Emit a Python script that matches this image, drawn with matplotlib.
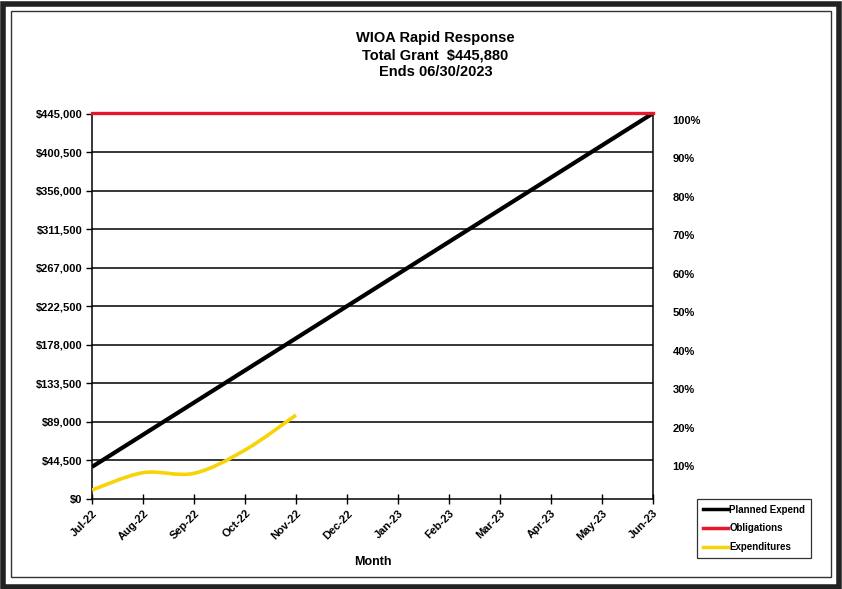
import numpy as np
import matplotlib.pyplot as plt
from matplotlib.path import Path
from matplotlib.patches import PathPatch, Rectangle
from matplotlib.lines import Line2D

plt.rcParams['font.family'] = ['Liberation Sans', 'DejaVu Sans']

# data
months = ['Jul-22', 'Aug-22', 'Sep-22', 'Oct-22', 'Nov-22', 'Dec-22',
          'Jan-23', 'Feb-23', 'Mar-23', 'Apr-23', 'May-23', 'Jun-23']
planned = [37157, 74313, 111470, 148627, 185783, 222940,
           260097, 297253, 334410, 371567, 408723, 445880]
obligations = [445880] * 12
expenditures = [10400, 30400, 29700, 56600, 97100]
y_ticks = [0, 44500, 89000, 133500, 178000, 222500, 267000, 311500, 356000, 400500, 445000]
pct_labels = ['10%', '20%', '30%', '40%', '50%', '60%', '70%', '80%', '90%', '100%']

fig = plt.figure(figsize=(8.42, 5.89), dpi=100)
ax = fig.add_axes([0.1093, 0.1528, 0.6663, 0.6537])

x = np.arange(len(months))

# grid lines
for v in y_ticks[1:]:
    ax.axhline(v, color='black', lw=1.1, zorder=1)

ax.plot(x, planned, color='black', lw=3, zorder=3, solid_capstyle='butt')
ax.plot(x, obligations, color='#e8182c', lw=2.4, zorder=4, clip_on=False)


# smoothed line like the spreadsheet (Catmull-Rom -> cubic bezier)
def smooth_path(xs, ys):
    pts = np.column_stack([xs, ys]).astype(float)
    verts = [pts[0]]
    codes = [Path.MOVETO]
    n = len(pts)
    for i in range(n - 1):
        p0 = pts[i - 1] if i > 0 else pts[i]
        p1 = pts[i]
        p2 = pts[i + 1]
        p3 = pts[i + 2] if i + 2 < n else pts[i + 1]
        c1 = p1 + (p2 - p0) / 6.0
        c2 = p2 - (p3 - p1) / 6.0
        verts += [c1, c2, p2]
        codes += [Path.CURVE4] * 3
    return Path(verts, codes)


ax.add_patch(PathPatch(smooth_path(x[:len(expenditures)], expenditures),
                       facecolor='none', edgecolor='#f7d308', lw=2.6, zorder=5))

ax.set_xlim(0, len(months) - 1)
ax.set_ylim(0, 445000)
ax.set_yticks(y_ticks)
ax.set_yticklabels(['$' + format(v, ',') for v in y_ticks], fontsize=8, fontweight='bold')
ax.set_xticks(x)
ax.set_xticklabels(months, rotation=45, ha='right', rotation_mode='anchor',
                   fontsize=8, fontweight='bold')
ax.tick_params(axis='x', direction='inout', length=7, width=1, pad=3)
ax.tick_params(axis='y', direction='out', length=4, width=1, pad=3)
ax.spines['top'].set_visible(False)
for s in ['left', 'bottom', 'right']:
    ax.spines[s].set_linewidth(1.1)
ax.set_xlabel('Month', fontsize=9, fontweight='bold', labelpad=10)

# percent labels on the right
ax2 = ax.twinx()
ax2.set_ylim(0, 100)
ax2.set_yticks(np.arange(10, 101, 10) - 1.5)
ax2.set_yticklabels(pct_labels, fontsize=8, fontweight='bold')
ax2.tick_params(axis='y', length=0, pad=14)
for s in ax2.spines.values():
    s.set_visible(False)

fig.text(0.517, 0.935, 'WIOA Rapid Response', ha='center', va='center', fontsize=10.5, fontweight='bold')
fig.text(0.517, 0.906, 'Total Grant  $445,880', ha='center', va='center', fontsize=10.5, fontweight='bold')
fig.text(0.517, 0.877, 'Ends 06/30/2023', ha='center', va='center', fontsize=10.5, fontweight='bold')

handles = [Line2D([], [], color='black', lw=2.5),
           Line2D([], [], color='#e8182c', lw=2.5),
           Line2D([], [], color='#f7d308', lw=2.5)]
leg = fig.legend(handles, ['Planned Expend', 'Obligations', 'Expenditures'],
                 loc='upper left', bbox_to_anchor=(0.828, 0.153),
                 prop={'size': 7, 'weight': 'bold'},
                 frameon=True, fancybox=False, edgecolor='black', handlelength=2.6,
                 handletextpad=0.1, borderpad=0.6, labelspacing=0.9, borderaxespad=0)
leg.get_frame().set_linewidth(0.9)

# outer border of the chart
fig.add_artist(Rectangle((0.003, 0.004), 0.994, 0.99, transform=fig.transFigure,
                         fill=False, edgecolor='#222222', lw=4))
fig.add_artist(Rectangle((0.013, 0.02), 0.974, 0.962, transform=fig.transFigure,
                         fill=False, edgecolor='#333333', lw=1))

fig.savefig('out.png', dpi=100)
